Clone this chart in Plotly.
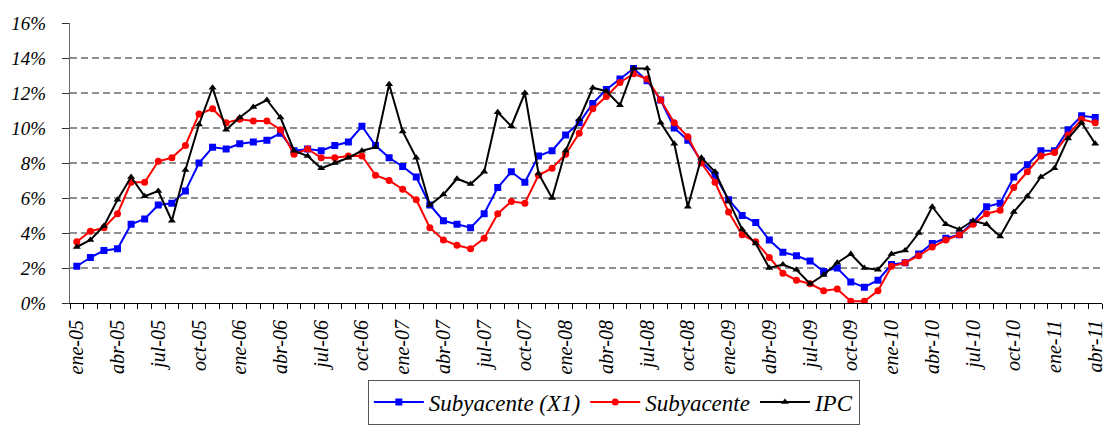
import plotly.graph_objects as go

# meses ene-05 .. abr-11
meses_abr = ['ene', 'feb', 'mar', 'abr', 'may', 'jun', 'jul', 'ago', 'sep', 'oct', 'nov', 'dic']
meses = [f'{m}-{a:02d}' for a in range(5, 12) for m in meses_abr][:76]

subyacente_x1 = [2.1, 2.6, 3.0, 3.1, 4.5, 4.8, 5.6, 5.7, 6.4, 8.0, 8.9, 8.8,
                 9.1, 9.2, 9.3, 9.7, 8.7, 8.8, 8.7, 9.0, 9.2, 10.1, 9.0, 8.3,
                 7.8, 7.2, 5.6, 4.7, 4.5, 4.3, 5.1, 6.6, 7.5, 6.9, 8.4, 8.7,
                 9.6, 10.3, 11.4, 12.2, 12.8, 13.4, 12.7, 11.6, 10.0, 9.3, 8.1, 7.3,
                 5.9, 5.0, 4.6, 3.6, 2.9, 2.7, 2.4, 1.8, 2.0, 1.2, 0.9, 1.3,
                 2.2, 2.3, 2.8, 3.4, 3.7, 3.9, 4.6, 5.5, 5.7, 7.2, 7.9, 8.7,
                 8.7, 9.9, 10.7, 10.6]

subyacente = [3.5, 4.1, 4.3, 5.1, 6.9, 6.9, 8.1, 8.3, 9.0, 10.8, 11.1, 10.3,
              10.5, 10.4, 10.4, 9.9, 8.5, 8.8, 8.3, 8.3, 8.4, 8.4, 7.3, 7.0,
              6.5, 5.9, 4.3, 3.6, 3.3, 3.1, 3.7, 5.1, 5.8, 5.7, 7.3, 7.7,
              8.5, 9.7, 11.1, 11.8, 12.6, 13.1, 12.8, 11.6, 10.3, 9.5, 8.0, 6.9,
              5.2, 3.9, 3.5, 2.6, 1.7, 1.3, 1.1, 0.7, 0.8, 0.1, 0.1, 0.7,
              2.1, 2.3, 2.7, 3.2, 3.6, 3.9, 4.5, 5.1, 5.3, 6.6, 7.5, 8.4,
              8.6, 9.6, 10.5, 10.3]

ipc = [3.2, 3.6, 4.4, 5.9, 7.2, 6.1, 6.4, 4.7, 7.6, 10.2, 12.3, 9.9,
       10.6, 11.2, 11.6, 10.6, 8.7, 8.4, 7.7, 8.0, 8.3, 8.7, 8.9, 12.5,
       9.8, 8.3, 5.6, 6.2, 7.1, 6.8, 7.5, 10.9, 10.1, 12.0, 7.4, 6.0,
       8.7, 10.5, 12.3, 12.1, 11.3, 13.4, 13.4, 10.3, 9.1, 5.5, 8.3, 7.5,
       5.8, 4.2, 3.4, 2.0, 2.2, 1.9, 1.1, 1.6, 2.3, 2.8, 2.0, 1.9,
       2.8, 3.0, 4.0, 5.5, 4.5, 4.2, 4.7, 4.5, 3.8, 5.2, 6.1, 7.2,
       7.7, 9.4, 10.3, 9.1]

etiquetas = [m if i % 3 == 0 else '' for i, m in enumerate(meses)]

fuente = 'Liberation Serif'

fig = go.Figure()

fig.add_trace(go.Scatter(
    x=meses, y=subyacente_x1, mode='lines+markers', name='Subyacente (X1)',
    line=dict(color='#0000ff', width=2),
    marker=dict(symbol='square', size=7, color='#0000ff')
))
fig.add_trace(go.Scatter(
    x=meses, y=subyacente, mode='lines+markers', name='Subyacente',
    line=dict(color='#ff0000', width=2),
    marker=dict(symbol='circle', size=7, color='#ff0000')
))
fig.add_trace(go.Scatter(
    x=meses, y=ipc, mode='lines+markers', name='IPC',
    line=dict(color='#000000', width=2),
    marker=dict(symbol='triangle-up', size=7, color='#000000')
))

fig.update_layout(
    width=1107, height=426,
    margin=dict(l=70, r=1, t=23, b=122),
    plot_bgcolor='white',
    paper_bgcolor='white',
    font=dict(family=fuente, size=18, color='black', style='italic'),
    showlegend=True,
    legend=dict(
        orientation='h',
        x=0.527, xanchor='center',
        y=-0.434, yanchor='bottom',
        bordercolor='#555555', borderwidth=1,
        font=dict(family=fuente, size=23, style='italic'),
        itemwidth=50,
    ),
    xaxis=dict(
        type='category',
        tickmode='array',
        tickvals=meses,
        ticktext=etiquetas,
        tickson='boundaries',
        ticks='outside', ticklen=5, tickcolor='black',
        tickangle=-90,
        ticklabelstandoff=8,
        showline=True, linecolor='black', linewidth=1,
        showgrid=False,
        range=[-0.5, 75.5],
        tickfont=dict(family=fuente, size=20, style='italic'),
    ),
    yaxis=dict(
        range=[0, 16],
        dtick=2,
        ticksuffix='%',
        ticks='outside', ticklen=7, tickcolor='#333333',
        ticklabelstandoff=12,
        showline=True, linecolor='#666666', linewidth=1,
        showgrid=True, gridcolor='#8f8f8f', gridwidth=2, griddash='7px,4px',
        zeroline=False,
        tickfont=dict(family=fuente, size=19, style='italic'),
    ),
)

# sin margen del body para que la figura ocupe la ventana exacta
fig.write_html('out.html', config={'displayModeBar': False},
               post_script="document.body.style.margin='0px';")
